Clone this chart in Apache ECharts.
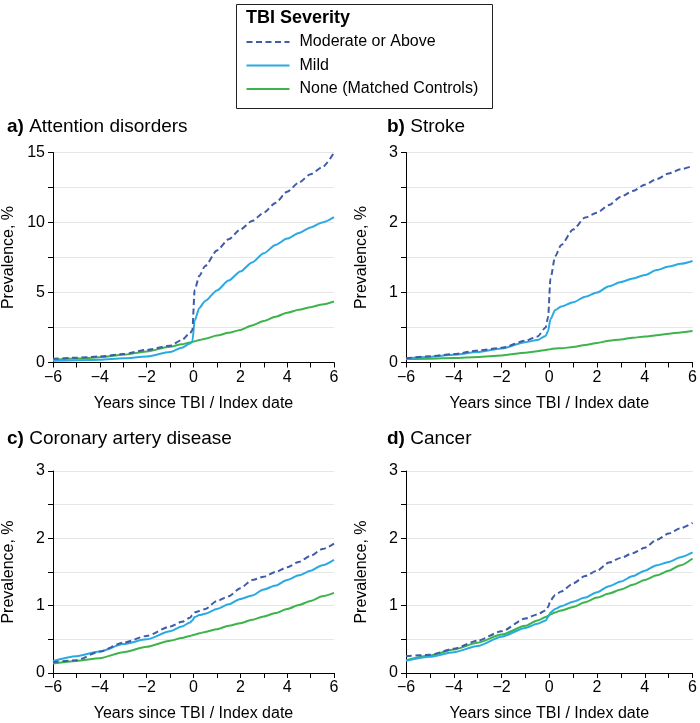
<!DOCTYPE html>
<html>
<head>
<meta charset="utf-8">
<script src="https://cdn.jsdelivr.net/npm/echarts@6/dist/echarts.min.js"></script>
<style>
  html, body { margin: 0; padding: 0; background: #fff; }
  #main { width: 700px; height: 723px; }
</style>
</head>
<body>
<div id="main"></div>
<script>
// years since TBI / index date
var years = [-6, -5, -4, -3, -2, -1, -0.5, -0.15, -0.05, 0.05, 0.25, 0.5, 1, 1.5, 2, 2.5, 3, 3.5, 4, 4.5, 5, 5.5, 6];

// a) Attention disorders
var attnMod  = [0.26, 0.34, 0.43, 0.6, 0.9, 1.2, 1.6, 2.1, 2.3, 5.2, 6.2, 6.9, 8.0, 8.8, 9.5, 10.1, 10.7, 11.4, 12.2, 12.85, 13.45, 13.95, 15.0];
var attnMild = [0.12, 0.16, 0.2, 0.3, 0.43, 0.75, 1.05, 1.35, 1.5, 3.0, 3.9, 4.4, 5.15, 5.85, 6.5, 7.15, 7.8, 8.4, 8.85, 9.25, 9.65, 10.0, 10.38];
var attnNone = [0.19, 0.28, 0.38, 0.55, 0.79, 1.12, 1.3, 1.43, 1.47, 1.52, 1.6, 1.7, 1.92, 2.12, 2.33, 2.65, 2.97, 3.27, 3.55, 3.77, 3.95, 4.15, 4.36];

// b) Stroke
var strokeMod  = [0.06, 0.09, 0.12, 0.17, 0.21, 0.31, 0.37, 0.5, 0.65, 1.2, 1.52, 1.68, 1.9, 2.07, 2.14, 2.25, 2.37, 2.45, 2.54, 2.62, 2.7, 2.76, 2.81];
var strokeMild = [0.06, 0.08, 0.11, 0.15, 0.2, 0.29, 0.32, 0.38, 0.45, 0.62, 0.75, 0.8, 0.86, 0.94, 1.0, 1.09, 1.15, 1.2, 1.25, 1.32, 1.37, 1.41, 1.45];
var strokeNone = [0.05, 0.055, 0.065, 0.08, 0.1, 0.14, 0.16, 0.18, 0.185, 0.19, 0.2, 0.205, 0.22, 0.25, 0.28, 0.31, 0.33, 0.355, 0.37, 0.39, 0.41, 0.43, 0.45];

// c) Coronary artery disease
var cadMod  = [0.16, 0.19, 0.32, 0.45, 0.55, 0.69, 0.76, 0.82, 0.86, 0.9, 0.92, 0.95, 1.07, 1.14, 1.26, 1.38, 1.43, 1.5, 1.57, 1.65, 1.74, 1.84, 1.92];
var cadMild = [0.18, 0.25, 0.32, 0.43, 0.5, 0.62, 0.69, 0.75, 0.78, 0.83, 0.86, 0.88, 0.95, 1.02, 1.1, 1.15, 1.24, 1.3, 1.38, 1.45, 1.52, 1.6, 1.68];
var cadNone = [0.14, 0.18, 0.22, 0.31, 0.39, 0.48, 0.52, 0.55, 0.56, 0.57, 0.59, 0.61, 0.65, 0.7, 0.74, 0.79, 0.84, 0.89, 0.95, 1.01, 1.07, 1.14, 1.19];

// d) Cancer
var cancerMod  = [0.25, 0.27, 0.36, 0.48, 0.62, 0.81, 0.87, 0.93, 0.98, 1.08, 1.16, 1.21, 1.33, 1.44, 1.52, 1.64, 1.71, 1.78, 1.86, 1.98, 2.07, 2.15, 2.23];
var cancerMild = [0.18, 0.24, 0.31, 0.4, 0.54, 0.67, 0.73, 0.78, 0.83, 0.9, 0.95, 0.99, 1.06, 1.12, 1.2, 1.29, 1.36, 1.44, 1.52, 1.6, 1.65, 1.72, 1.79];
var cancerNone = [0.19, 0.26, 0.35, 0.45, 0.57, 0.7, 0.78, 0.83, 0.85, 0.87, 0.9, 0.93, 0.98, 1.05, 1.12, 1.18, 1.24, 1.31, 1.38, 1.45, 1.52, 1.6, 1.7];

var severity = ['Moderate or Above', 'Mild', 'None (Matched Controls)'];
var colors = ['#3f5ba9', '#29aae1', '#3cb44b'];

var panels = [
  { title: 'a)', name: 'Attention disorders', max: 15, step: 2.5, labelStep: 5, data: [attnMod, attnMild, attnNone] },
  { title: 'b)', name: 'Stroke', max: 3, step: 0.5, labelStep: 1, data: [strokeMod, strokeMild, strokeNone] },
  { title: 'c)', name: 'Coronary artery disease', max: 3, step: 0.5, labelStep: 1, data: [cadMod, cadMild, cadNone] },
  { title: 'd)', name: 'Cancer', max: 3, step: 0.5, labelStep: 1, data: [cancerMod, cancerMild, cancerNone] }
];

var font = 'Liberation Sans, Arial, sans-serif';
var lefts = [46, 406, 46, 406];
var tops = [152.5, 152.5, 471, 471];
var titleTops = [112, 112, 424, 424];
var titleLefts = [2, 382, 2, 382];

function zip(ys) {
  return years.map(function (x, i) { return [x, ys[i]]; });
}
function fmtNum(v) {
  return String(v).replace('-', '\u2212');
}

var grids = [], xAxes = [], yAxes = [], series = [], titles = [];

titles.push({
  text: 'TBI Severity',
  left: 241, top: 4,
  textStyle: { fontFamily: font, fontSize: 18, fontWeight: 'bold', color: '#000' }
});

panels.forEach(function (p, i) {
  grids.push({ left: lefts[i], top: tops[i], width: 288, height: 210 });
  titles.push({
    text: '{b|' + p.title + '} ' + p.name,
    left: titleLefts[i], top: titleTops[i],
    textStyle: {
      fontFamily: font, fontSize: 19, fontWeight: 'normal', color: '#000',
      rich: { b: { fontFamily: font, fontSize: 19, fontWeight: 'bold', color: '#000' } }
    }
  });
  xAxes.push({
    type: 'value', gridIndex: i, min: -6, max: 6, interval: 1,
    name: 'Years since TBI / Index date', nameLocation: 'middle', nameGap: 33,
    nameTextStyle: { fontFamily: font, fontSize: 16, color: '#000' },
    axisLine: { onZero: false, lineStyle: { color: '#000', width: 1 } },
    axisTick: { show: true, length: 5, lineStyle: { color: '#000' } },
    splitLine: { show: false },
    axisLabel: {
      fontFamily: font, fontSize: 16, color: '#000', margin: 7,
      formatter: function (v) { return v % 2 === 0 ? fmtNum(v) : ''; }
    }
  });
  yAxes.push({
    type: 'value', gridIndex: i, min: 0, max: p.max, interval: p.step,
    name: 'Prevalence, %', nameLocation: 'middle', nameGap: 36,
    nameTextStyle: { fontFamily: font, fontSize: 16, color: '#000' },
    axisLine: { show: true, onZero: false, lineStyle: { color: '#000', width: 1 } },
    axisTick: { show: true, length: 5, lineStyle: { color: '#000' } },
    splitLine: { show: true, lineStyle: { color: '#e6e6e6', width: 1 } },
    axisLabel: {
      fontFamily: font, fontSize: 16, color: '#000', margin: 8,
      formatter: function (v) { return Math.abs(v % p.labelStep) < 1e-9 ? String(v) : ''; }
    }
  });
  // draw controls first, dashed on top
  [2, 1, 0].forEach(function (k) {
    series.push({
      name: severity[k], type: 'line', xAxisIndex: i, yAxisIndex: i,
      data: zip(p.data[k]),
      showSymbol: false, symbol: 'none',
      smooth: 0.25, smoothMonotone: 'x',
      lineStyle: { color: colors[k], width: 2, type: k === 0 ? [6, 3.5] : 'solid' },
      itemStyle: { color: colors[k] },
      silent: true
    });
  });
});

var chart = echarts.init(document.getElementById('main'));
chart.setOption({
  backgroundColor: '#fff',
  animation: false,
  title: titles,
  graphic: [{
    type: 'rect', left: 234, top: 2,
    shape: { width: 256, height: 104 },
    style: { fill: 'none', stroke: '#222', lineWidth: 1 }
  }],
  legend: {
    data: severity, orient: 'vertical', left: 240.5, top: 29,
    itemWidth: 43, itemHeight: 14, itemGap: 7.5, selectedMode: false,
    itemStyle: { opacity: 0 },
    textStyle: { fontFamily: font, fontSize: 16, color: '#000', lineHeight: 14, padding: [0, 0, 0, 5] }
  },
  grid: grids,
  xAxis: xAxes,
  yAxis: yAxes,
  series: series
});
window.addEventListener('resize', function () { chart.resize(); });
</script>
</body>
</html>
